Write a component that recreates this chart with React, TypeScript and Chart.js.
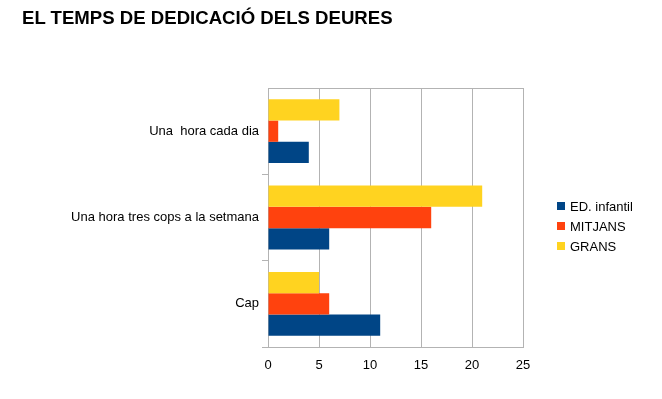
import React, { useEffect, useRef } from "react";
import { Chart, registerables } from "chart.js";

Chart.register(...registerables);

const categories = ["Una  hora cada dia", "Una hora tres cops a la setmana", "Cap"];
const edInfantil = [4, 6, 11];
const mitjans = [1, 16, 6];
const grans = [7, 21, 5];
const xTicks = [0, 5, 10, 15, 20, 25];

const FONT = "'Liberation Sans', Arial, sans-serif";
const BLUE = "#004586";
const RED = "#ff420e";
const YELLOW = "#ffd320";

const legendItems = [
  { label: "ED. infantil", color: BLUE },
  { label: "MITJANS", color: RED },
  { label: "GRANS", color: YELLOW },
];

export default function App() {
  const ref = useRef<HTMLCanvasElement | null>(null);

  useEffect(() => {
    if (!ref.current) return;
    const chart = new Chart(ref.current, {
      type: "bar",
      data: {
        labels: categories,
        datasets: [
          { label: "GRANS", data: grans, backgroundColor: YELLOW },
          { label: "MITJANS", data: mitjans, backgroundColor: RED },
          { label: "ED. infantil", data: edInfantil, backgroundColor: BLUE },
        ],
      },
      options: {
        indexAxis: "y",
        responsive: false,
        animation: false,
        maintainAspectRatio: false,
        layout: { padding: { top: 88, right: 139, left: 0, bottom: 0 } },
        datasets: { bar: { categoryPercentage: 0.74, barPercentage: 1 } },
        plugins: { legend: { display: false }, title: { display: false }, tooltip: { enabled: false } },
        scales: {
          x: {
            min: 0,
            max: 25,
            afterBuildTicks: (s: any) => {
              s.ticks = xTicks.map((v) => ({ value: v }));
            },
            afterFit: (s: any) => {
              s.height = 52;
            },
            border: { color: "#b3b3b3" },
            grid: { color: "#b3b3b3", drawTicks: false },
            ticks: { color: "#000", font: { family: FONT, size: 13 }, padding: 11 },
          },
          y: {
            afterFit: (s: any) => {
              s.width = 268;
            },
            border: { color: "#b3b3b3" },
            grid: {
              color: "#b3b3b3",
              tickColor: (c: any) => (c.index === 0 ? "rgba(0,0,0,0)" : "#b3b3b3"),
              drawOnChartArea: false,
              drawTicks: true,
              tickLength: 6,
              offset: true,
            },
            ticks: { color: "#000", font: { family: FONT, size: 13 }, padding: 3 },
          },
        },
      },
      plugins: [
        {
          id: "topBorder",
          afterDraw: (c: any) => {
            const { ctx, chartArea } = c;
            ctx.save();
            ctx.strokeStyle = "#b3b3b3";
            ctx.lineWidth = 1;
            ctx.beginPath();
            ctx.moveTo(chartArea.left, chartArea.top + 0.5);
            ctx.lineTo(chartArea.right, chartArea.top + 0.5);
            ctx.stroke();
            ctx.restore();
          },
        },
      ],
    });
    return () => chart.destroy();
  }, []);

  return (
    <div style={{ position: "fixed", left: 0, top: 0, width: 662, height: 399, background: "#fff" }}>
      <canvas ref={ref} width={662} height={399} style={{ position: "absolute", left: 0, top: 0 }} />
      <div
        style={{
          position: "absolute",
          left: 22,
          top: 6,
          fontFamily: FONT,
          fontWeight: "bold",
          fontSize: 18.6,
          color: "#000",
          whiteSpace: "nowrap",
          lineHeight: "24px",
        }}
      >
        EL TEMPS DE DEDICACIÓ DELS DEURES
      </div>
      <div style={{ position: "absolute", left: 557, top: 196, fontFamily: FONT, fontSize: 13, color: "#000" }}>
        {legendItems.map((it) => (
          <div key={it.label} style={{ display: "flex", alignItems: "center", height: 20 }}>
            <span style={{ width: 8, height: 8, background: it.color, display: "inline-block", marginRight: 5 }} />
            <span>{it.label}</span>
          </div>
        ))}
      </div>
    </div>
  );
}
